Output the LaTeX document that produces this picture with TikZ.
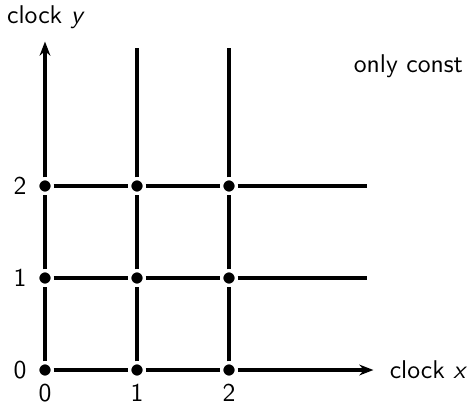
\documentclass[tikz,border=0pt]{standalone}
\usepackage{xcolor}
\usepackage{tikz}
\usetikzlibrary{arrows.meta, positioning}
\definecolor{mydark}{RGB}{0,0,0}
\tikzset{
  dot/.style={circle, fill=mydark, draw=white, line width=1.15pt,
    inner sep=0pt, minimum size=5.6pt},
  gridline/.style={line width=1.2pt, color=mydark},
  axis/.style={-{Stealth[length=5.5pt, width=4.2pt]}, line width=1.2pt, color=mydark},
  lbl/.style={font=\sffamily}
}

\begin{document}
\begin{tikzpicture}[x=1.26cm, y=1.26cm]
  \useasboundingbox (-0.489,-0.385) rectangle (4.587,4.022);
  % grid points
  \node[dot] (p00) at (0,0) {};
  \node[dot] (p10) at (1,0) {};
  \node[dot] (p20) at (2,0) {};
  \node[dot] (p01) at (0,1) {};
  \node[dot] (p11) at (1,1) {};
  \node[dot] (p21) at (2,1) {};
  \node[dot] (p02) at (0,2) {};
  \node[dot] (p12) at (1,2) {};
  \node[dot] (p22) at (2,2) {};
  \coordinate (xend) at (3.57,0);
  \coordinate (yend) at (0,3.57);
  \coordinate (v1end) at (1,3.5);
  \coordinate (v2end) at (2,3.5);
  \coordinate (h1end) at (3.5,1);
  \coordinate (h2end) at (3.5,2);
  % axes
  \draw[gridline] (p00) -- (p10);
  \draw[gridline] (p10) -- (p20);
  \draw[axis] (p20) -- (xend);
  \draw[gridline] (p00) -- (p01);
  \draw[gridline] (p01) -- (p02);
  \draw[axis] (p02) -- (yend);
  % grid lines
  \draw[gridline] (p10) -- (p11);
  \draw[gridline] (p11) -- (p12);
  \draw[gridline] (p12) -- (v1end);
  \draw[gridline] (p20) -- (p21);
  \draw[gridline] (p21) -- (p22);
  \draw[gridline] (p22) -- (v2end);
  \draw[gridline] (p01) -- (p11);
  \draw[gridline] (p11) -- (p21);
  \draw[gridline] (p21) -- (h1end);
  \draw[gridline] (p02) -- (p12);
  \draw[gridline] (p12) -- (p22);
  \draw[gridline] (p22) -- (h2end);
  % labels
  \node[lbl, right=0.1cm of xend] (xlabel) {clock \textit{x}};
  \node[lbl] (ylabel) at (0.01,3.84) {clock \textit{y}};
  \node[lbl] (note) at (3.95,3.3) {only const};
  \node[lbl] (x0) at (0,-0.25) {0};
  \node[lbl] (x1) at (1,-0.25) {1};
  \node[lbl] (x2) at (2,-0.25) {2};
  \node[lbl] (y0) at (-0.27,0) {0};
  \node[lbl] (y1) at (-0.27,1) {1};
  \node[lbl] (y2) at (-0.27,2) {2};
\end{tikzpicture}
\end{document}
